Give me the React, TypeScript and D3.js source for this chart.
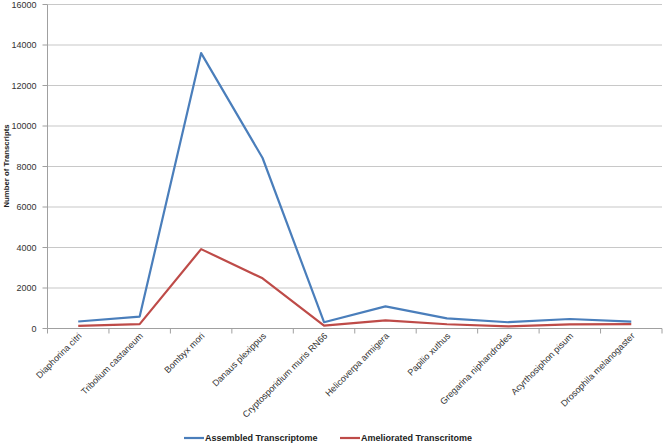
import React, { useEffect } from "react";
import * as d3 from "d3";

// Transcript counts per species, two line series

const species = [
  "Diaphorina citri",
  "Tribolium castaneum",
  "Bombyx mori",
  "Danaus plexippus",
  "Cryptosporidium muris RN66",
  "Helicoverpa armigera",
  "Papilio xuthus",
  "Gregarina niphandrodes",
  "Acyrthosiphon pisum",
  "Drosophila melanogaster",
];
const assembled = [345, 590, 13600, 8420, 310, 1090, 500, 310, 470, 340];
const ameliorated = [133, 215, 3920, 2480, 145, 400, 210, 105, 200, 212];
const yTicks = [0, 2000, 4000, 6000, 8000, 10000, 12000, 14000, 16000];
const seriesNames = ["Assembled Transcriptome", "Ameliorated Transcritome"];
const seriesColors = ["#4a7ebb", "#be4b48"];

const W = 664, H = 445;
const left = 47.5, right = 662, top = 4.5, bottom = 328.5;
const font = "'Liberation Sans', Arial, sans-serif";

export default function App() {
  useEffect(() => {
    document.body.style.margin = "0";
  }, []);

  const x = d3.scaleBand().domain(species).range([left, right]);
  const y = d3.scaleLinear().domain([0, 16000]).range([bottom, top]);
  const line = d3
    .line<number>()
    .x((_, i) => (x(species[i]) as number) + x.bandwidth() / 2)
    .y((d) => y(d));

  const series = [assembled, ameliorated];

  return (
    <svg width={W} height={H} style={{ display: "block", background: "#fff" }}>
      {/* gridlines */}
      {yTicks.slice(1).map((t) => (
        <line key={"g" + t} x1={left} x2={right} y1={y(t)} y2={y(t)} stroke="#c8c8c8" strokeWidth={1.2} />
      ))}
      {/* y axis */}
      <line x1={left} x2={left} y1={top} y2={bottom} stroke="#a0a0a0" strokeWidth={1} />
      {yTicks.map((t) => (
        <g key={"y" + t}>
          <line x1={left - 5} x2={left} y1={y(t)} y2={y(t)} stroke="#a0a0a0" />
          <text x={36.5} y={y(t) + 3.2} textAnchor="end" fontSize={9} fontFamily={font} fill="#333">
            {t}
          </text>
        </g>
      ))}
      {/* x axis */}
      <line x1={left} x2={right} y1={bottom} y2={bottom} stroke="#a0a0a0" strokeWidth={1} />
      {species.map((s, i) => (
        <line key={"xt" + i} x1={left + i * x.step()} x2={left + i * x.step()} y1={bottom} y2={bottom + 5} stroke="#a0a0a0" />
      ))}
      <line x1={right} x2={right} y1={bottom} y2={bottom + 5} stroke="#a0a0a0" />
      {species.map((s) => {
        const cx = (x(s) as number) + x.bandwidth() / 2 + 4;
        const cy = bottom + 8;
        return (
          <text
            key={"xl" + s}
            transform={`translate(${cx},${cy}) rotate(-45)`}
            textAnchor="end"
            fontSize={9}
            fontFamily={font}
            fill="#333"
          >
            {s}
          </text>
        );
      })}
      {/* y title */}
      <text
        transform={`translate(9,166) rotate(-90)`}
        textAnchor="middle"
        fontSize={7.8}
        fontWeight="bold"
        fontFamily={font}
        fill="#222"
      >
        Number of Transcripts
      </text>
      {/* lines */}
      {series.map((d, i) => (
        <path key={"s" + i} d={line(d) as string} fill="none" stroke={seriesColors[i]} strokeWidth={2.2} strokeLinejoin="round" />
      ))}
      {/* legend */}
      {seriesNames.map((n, i) => {
        const lx = i === 0 ? 184 : 340;
        return (
          <g key={"lg" + i}>
            <line x1={lx} x2={lx + 20} y1={438} y2={438} stroke={seriesColors[i]} strokeWidth={2.2} />
            <text x={lx + 21} y={441.2} fontSize={9} fontWeight="bold" fontFamily={font} fill="#222">
              {n}
            </text>
          </g>
        );
      })}
    </svg>
  );
}
